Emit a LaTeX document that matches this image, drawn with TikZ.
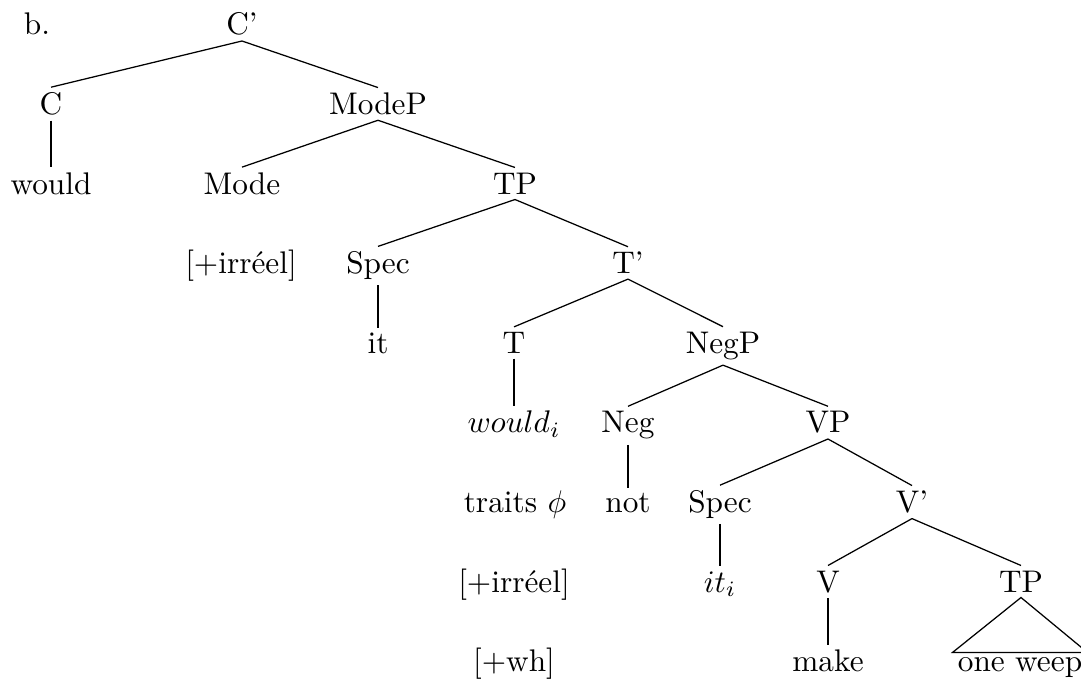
\documentclass[tikz,border=0pt]{standalone}
\usepackage{fontspec}
\usepackage{amsmath}
\usepackage{tikz}
\tikzset{
  cat/.style={anchor=base, inner sep=1.5pt},
  branch/.style={thin, color=black},
  roof/.style={thin, color=black}
}

\begin{document}
\begin{tikzpicture}[x=0.01123cm, y=-0.01123cm]
  \useasboundingbox (0,0) rectangle (1081,679);

  % example label
  \node[cat] (lbl) at (37,35) {b.};

  % C' level
  \node[cat] (cbar)  at (242,35)    {C'};
  \node[cat] (c)     at (51,114.6)  {C};
  \node[cat] (would) at (51,194.2)  {would};
  \node[cat] (modep) at (378,114.6) {ModeP};

  % ModeP level
  \node[cat] (mode)   at (242,194.2) {Mode};
  \node[cat] (tp)     at (515,194.2) {TP};
  \node[cat] (irrA)   at (241,273.8) {[+irréel]};

  % TP level
  \node[cat] (spec)  at (378,273.8) {Spec};
  \node[cat] (it)    at (378,353.4) {it};
  \node[cat] (tbar)  at (628,273.8) {T'};

  % T' level
  \node[cat] (t)      at (514,353.4) {T};
  \node[cat] (wouldi) at (514,433)   {$would_i$};
  \node[cat] (negp)   at (723,353.4) {NegP};

  % features under T
  \node[cat] (phi)  at (515,512.6) {traits $\phi$};
  \node[cat] (irrB) at (514,592.2) {[+irréel]};
  \node[cat] (wh)   at (514,671.8) {[+wh]};

  % NegP level
  \node[cat] (neg)  at (628,433)   {Neg};
  \node[cat] (nt)   at (628,512.6) {not};
  \node[cat] (vp)   at (828,433)   {VP};

  % VP level
  \node[cat] (specv) at (720,512.6) {Spec};
  \node[cat] (iti)   at (720,592.2) {$it_i$};
  \node[cat] (vbar)  at (912,512.6) {V'};

  % V' level
  \node[cat] (v)    at (828,592.2)  {V};
  \node[cat] (make) at (828,671.8)  {make};
  \node[cat] (tpb)  at (1021,592.2) {TP};
  \node[cat] (ow)   at (1020,671.8) {one weep};

  % branches
  \draw[branch] (cbar.south)  -- (c.north);
  \draw[branch] (cbar.south)  -- (modep.north);
  \draw[branch] (c.south)     -- (would.north);
  \draw[branch] (modep.south) -- (mode.north);
  \draw[branch] (modep.south) -- (tp.north);
  \draw[branch] (tp.south)    -- (spec.north);
  \draw[branch] (tp.south)    -- (tbar.north);
  \draw[branch] (spec.south)  -- (it.north);
  \draw[branch] (tbar.south)  -- (t.north);
  \draw[branch] (tbar.south)  -- (negp.north);
  \draw[branch] (t.south)     -- (wouldi.north);
  \draw[branch] (negp.south)  -- (neg.north);
  \draw[branch] (negp.south)  -- (vp.north);
  \draw[branch] (neg.south)   -- (nt.north);
  \draw[branch] (vp.south)    -- (specv.north);
  \draw[branch] (vp.south)    -- (vbar.north);
  \draw[branch] (specv.south) -- (iti.north);
  \draw[branch] (vbar.south)  -- (v.north);
  \draw[branch] (vbar.south)  -- (tpb.north);
  \draw[branch] (v.south)     -- (make.north);

  % roof over the embedded TP
  \draw[roof] (tpb.south) -- (ow.north west) -- (ow.north east) -- cycle;

\end{tikzpicture}
\end{document}
